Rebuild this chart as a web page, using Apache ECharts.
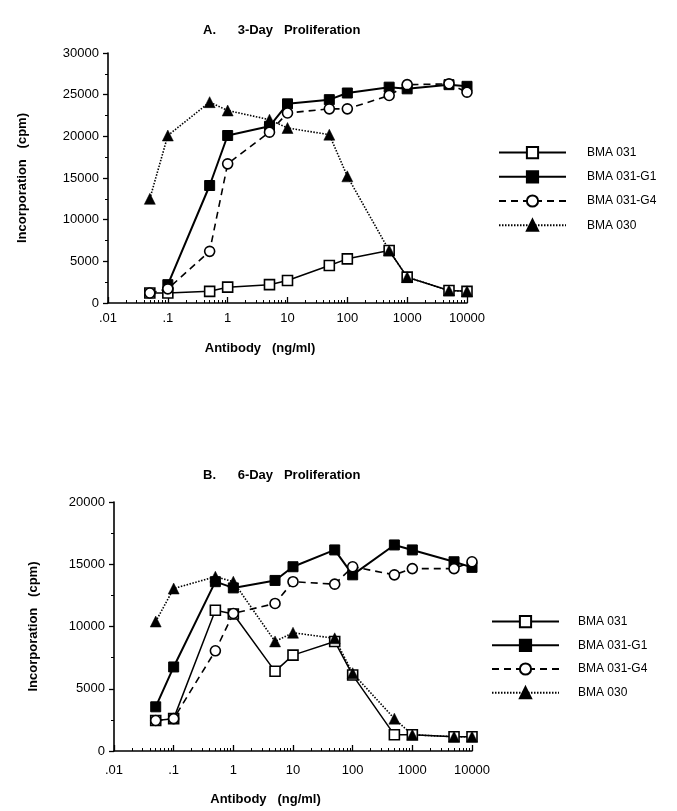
<!DOCTYPE html>
<html><head><meta charset="utf-8">
<script src="https://cdn.jsdelivr.net/npm/echarts@6/dist/echarts.min.js"></script>
<style>html,body{margin:0;padding:0;background:#fff}#c{width:677px;height:811px}</style>
</head><body><div id="c"></div>
<script>
// ---------- data ----------
const doses = [0.05, 0.1, 0.5, 1, 5, 10, 50, 100, 500, 1000, 5000, 10000];
const seriesNames = ['BMA 031', 'BMA 031-G1', 'BMA 031-G4', 'BMA 030'];

// Panel A: 3-Day proliferation (cpm)
const a_bma031   = [1200, 1200, 1400, 1900, 2200, 2700, 4500, 5300, 6300, 3100, 1500, 1400];
const a_bma031g1 = [null, 2200, 14100, 20100, 21200, 23900, 24400, 25200, 25900, 25700, 26200, 26000];
const a_bma031g4 = [1200, 1700, 6200, 16700, 20500, 22800, 23300, 23300, 24900, 26200, 26300, 25300];
const a_bma030   = [12500, 20100, 24100, 23100, 22000, 21000, 20200, 15200, 6300, 3100, 1500, 1400];

// Panel B: 6-Day proliferation (cpm)
const b_bma031   = [2450, 2600, 11300, 11000, 6400, 7700, 8800, 6100, 1300, 1300, 1150, 1150];
const b_bma031g1 = [3550, 6750, 13600, 13100, 13700, 14800, 16150, 14150, 16550, 16150, 15200, 14750];
const b_bma031g4 = [2450, 2600, 8050, 11050, 11850, 13600, 13400, 14800, 14150, 14650, 14650, 15200];
const b_bma030   = [10400, 13050, 14000, 13600, 8800, 9500, 9050, 6250, 2600, 1300, 1150, 1150];

// tick labels
const xTickLabels = ['.01', '.1', '1', '10', '100', '1000', '10000'];
const yTicksA = [0, 5000, 10000, 15000, 20000, 25000, 30000];
const yTicksB = [0, 5000, 10000, 15000, 20000];
const minorMultipliers = [2, 3, 4, 5, 6, 7, 8, 9];

// ---------- build ----------
const FONT = '"Liberation Sans", Arial, Helvetica, sans-serif';
const minorLog = [];
for (let d = -2; d < 4; d++) minorMultipliers.forEach(m => minorLog.push(d + Math.log10(m)));

const styles = {
  'BMA 031':    { symbol: 'rect', symbolSize: 10, itemStyle: { color: '#fff', borderColor: '#000', borderWidth: 1.6 }, lineStyle: { color: '#000', width: 1.5, type: 'solid' } },
  'BMA 031-G1': { symbol: 'rect', symbolSize: 10, itemStyle: { color: '#000', borderColor: '#000', borderWidth: 1 }, lineStyle: { color: '#000', width: 2, type: 'solid' } },
  'BMA 031-G4': { symbol: 'circle', symbolSize: 10, itemStyle: { color: '#fff', borderColor: '#000', borderWidth: 1.6 }, lineStyle: { color: '#000', width: 1.6, type: [7, 5] } },
  'BMA 030':    { symbol: 'triangle', symbolSize: 11, itemStyle: { color: '#000', borderColor: '#000', borderWidth: 0.5 }, lineStyle: { color: '#000', width: 1.6, type: [1.5, 1.5] } }
};

function mkSeries(name, vals, idx) {
  const s = styles[name];
  return {
    name, type: 'line', xAxisIndex: idx * 2, yAxisIndex: idx,
    data: doses.map((d, i) => [d, vals[i]]),
    symbol: s.symbol, symbolSize: s.symbolSize, showAllSymbol: true,
    itemStyle: s.itemStyle, lineStyle: s.lineStyle,
    emphasis: { disabled: true }, animation: false
  };
}

function logAxis(gridIndex, labelMargin, nameGap) {
  return {
    type: 'log', logBase: 10, gridIndex, min: 0.01, max: 10000, splitNumber: 6, position: 'bottom',
    axisLine: { onZero: false, lineStyle: { color: '#000', width: 1.6 } },
    axisTick: { inside: true, length: 6, lineStyle: { color: '#000', width: 1.3 } },
    splitLine: { show: false }, minorTick: { show: false },
    axisLabel: { color: '#000', fontFamily: FONT, fontSize: 13, margin: labelMargin,
      formatter: v => xTickLabels[Math.round(Math.log10(v)) + 2] },
    name: 'Antibody   (ng/ml)', nameLocation: 'middle', nameGap,
    nameTextStyle: { color: '#000', fontFamily: FONT, fontSize: 13, fontWeight: 'bold', padding: [0, 55, 0, 0] }
  };
}
function minorAxis(gridIndex) {
  return {
    type: 'value', gridIndex, min: -2, max: 4, position: 'bottom',
    axisLine: { show: false, onZero: false }, axisLabel: { show: false }, splitLine: { show: false },
    axisTick: { show: true, inside: true, length: 3, customValues: minorLog, lineStyle: { color: '#000', width: 1 } }
  };
}
function yAxis(gridIndex, ticks, nameGap) {
  return {
    type: 'value', gridIndex, min: ticks[0], max: ticks[ticks.length - 1], interval: ticks[1] - ticks[0],
    position: 'left',
    axisLine: { show: true, onZero: false, lineStyle: { color: '#000', width: 1.6 } },
    axisTick: { show: true, length: 5, lineStyle: { color: '#000', width: 1.3 } },
    minorTick: { show: true, splitNumber: 2, length: 3, lineStyle: { color: '#000', width: 1 } },
    splitLine: { show: false },
    axisLabel: { color: '#000', fontFamily: FONT, fontSize: 13, margin: 9, formatter: v => String(v) },
    name: 'Incorporation   (cpm)', nameLocation: 'middle', nameGap,
    nameTextStyle: { color: '#000', fontFamily: FONT, fontSize: 13, fontWeight: 'bold' }
  };
}
function legend(left, top, gap, padLeft) {
  return {
    orient: 'vertical', left, top, itemWidth: 67, itemHeight: 14, itemGap: gap,
    data: seriesNames, selectedMode: false,
    textStyle: { color: '#000', fontFamily: FONT, fontSize: 12, padding: [0, 0, 0, padLeft] }
  };
}

const option = {
  backgroundColor: '#fff',
  animation: false,
  title: [
    { text: 'A.      3-Day   Proliferation', left: 203, top: 24, padding: 0,
      textStyle: { color: '#000', fontFamily: FONT, fontSize: 13, fontWeight: 'bold' } },
    { text: 'B.      6-Day   Proliferation', left: 203, top: 469, padding: 0,
      textStyle: { color: '#000', fontFamily: FONT, fontSize: 13, fontWeight: 'bold' } }
  ],
  legend: [ legend(493, 141, 11, 16), legend(486, 610, 10.5, 14) ],
  grid: [
    { left: 108, top: 53, width: 359, height: 250, containLabel: false },
    { left: 114, top: 502, width: 358, height: 249, containLabel: false }
  ],
  xAxis: [ logAxis(0, 9, 39), minorAxis(0), logAxis(1, 13, 42), minorAxis(1) ],
  yAxis: [ yAxis(0, yTicksA, 79), yAxis(1, yTicksB, 74) ],
  series: [
    mkSeries('BMA 031', a_bma031, 0),
    mkSeries('BMA 031-G1', a_bma031g1, 0),
    mkSeries('BMA 031-G4', a_bma031g4, 0),
    mkSeries('BMA 030', a_bma030, 0),
    mkSeries('BMA 031', b_bma031, 1),
    mkSeries('BMA 031-G1', b_bma031g1, 1),
    mkSeries('BMA 031-G4', b_bma031g4, 1),
    mkSeries('BMA 030', b_bma030, 1)
  ]
};
const chart = echarts.init(document.getElementById('c'), null, { renderer: 'canvas' });
chart.setOption(option);
</script></body></html>
